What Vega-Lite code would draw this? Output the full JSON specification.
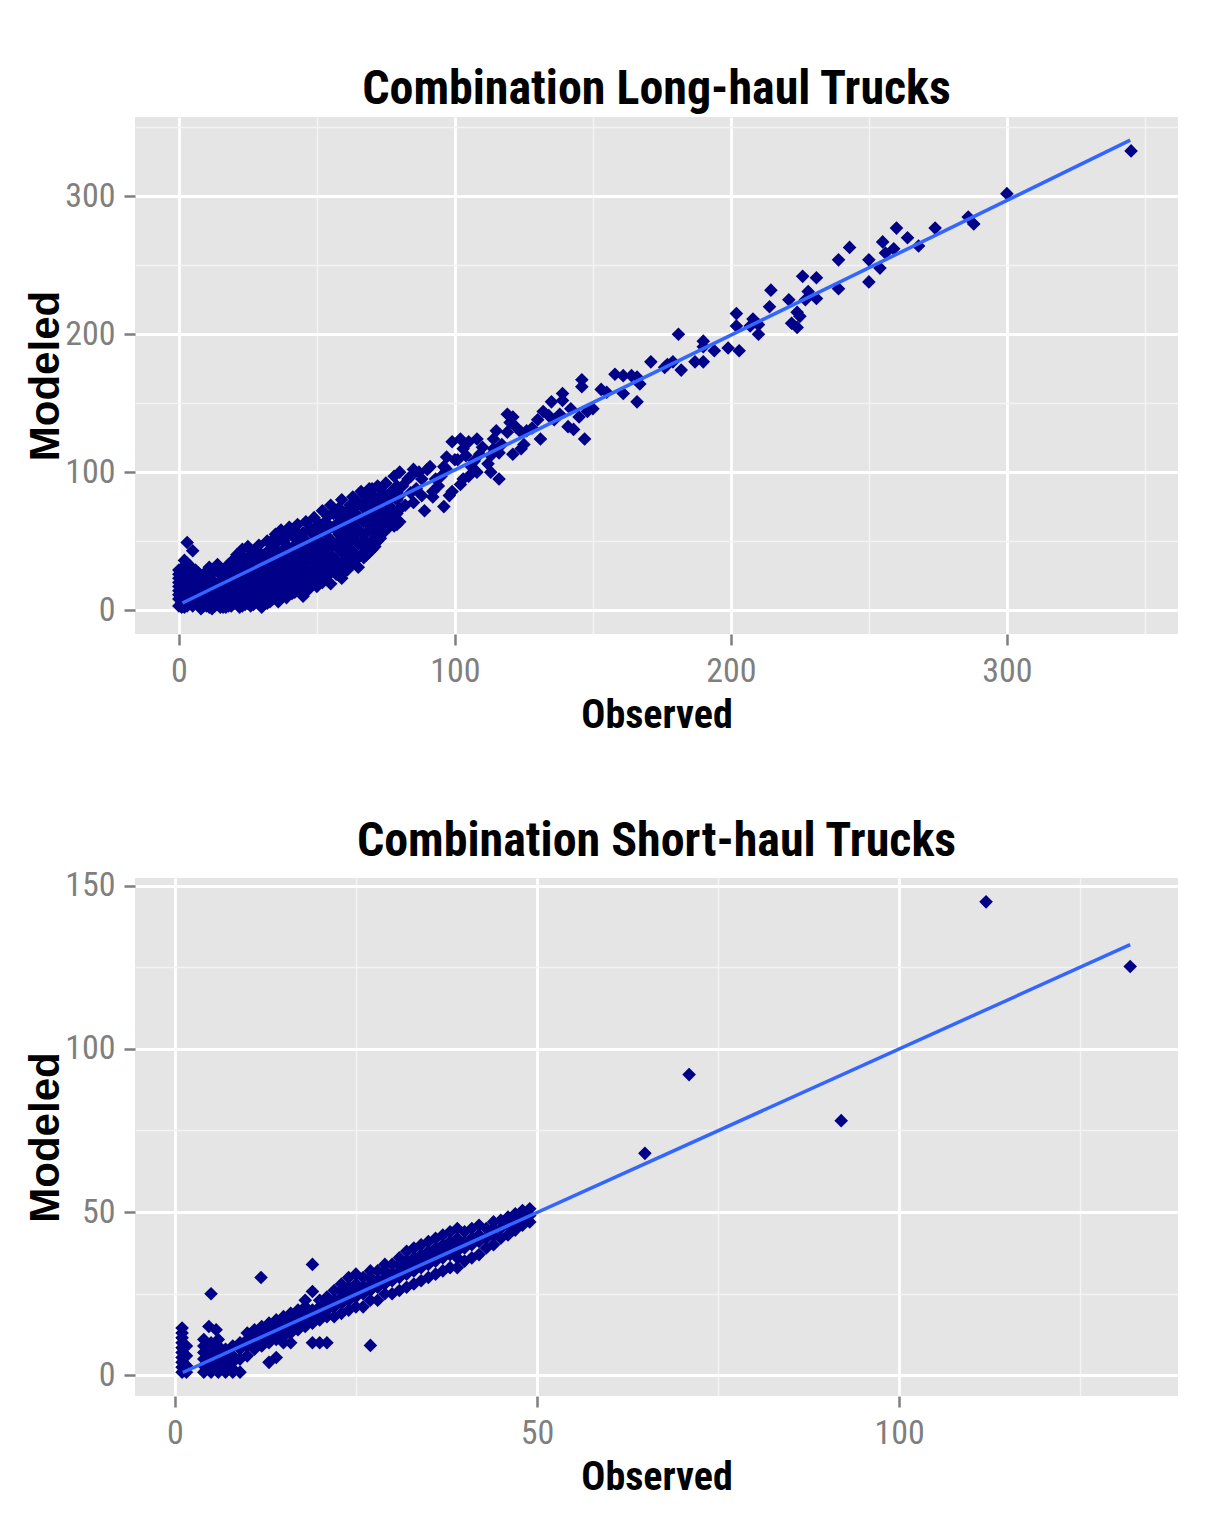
{
  "$schema": "https://vega.github.io/schema/vega-lite/v6.json",
  "background": "#FFFFFF",
  "padding": {"left": 24, "top": 66, "right": 40, "bottom": 20},
  "datasets": {
    "longHaul": [
      {"obs":0,"mod":3},{"obs":0,"mod":8},{"obs":0,"mod":14},{"obs":0,"mod":20},{"obs":0,"mod":26},{"obs":1,"mod":5},{"obs":1,"mod":11},{"obs":1,"mod":17},{"obs":1,"mod":23},{"obs":1,"mod":30},
      {"obs":2,"mod":2},{"obs":2,"mod":9},{"obs":2,"mod":15},{"obs":2,"mod":21},{"obs":2,"mod":28},{"obs":2,"mod":36},{"obs":3,"mod":49},{"obs":4,"mod":6},{"obs":4,"mod":13},{"obs":4,"mod":19},
      {"obs":4,"mod":25},{"obs":4,"mod":32},{"obs":5,"mod":43},{"obs":5,"mod":3},{"obs":6,"mod":10},{"obs":6,"mod":16},{"obs":6,"mod":22},{"obs":6,"mod":29},{"obs":7,"mod":4},{"obs":7,"mod":12},
      {"obs":8,"mod":18},{"obs":8,"mod":25},{"obs":8,"mod":1},{"obs":9,"mod":8},{"obs":9,"mod":14},{"obs":9,"mod":21},{"obs":10,"mod":28},{"obs":10,"mod":3},{"obs":11,"mod":10},{"obs":11,"mod":17},
      {"obs":11,"mod":24},{"obs":12,"mod":1},{"obs":12,"mod":6},{"obs":12,"mod":13},{"obs":13,"mod":20},{"obs":13,"mod":29},{"obs":14,"mod":4},{"obs":14,"mod":9},{"obs":14,"mod":16},{"obs":14,"mod":33},
      {"obs":0,"mod":11},{"obs":0,"mod":17},{"obs":0,"mod":23},{"obs":0,"mod":29},{"obs":1,"mod":2},{"obs":1,"mod":8},{"obs":1,"mod":14},{"obs":1,"mod":20},{"obs":1,"mod":26},{"obs":2,"mod":5},
      {"obs":2,"mod":12},{"obs":2,"mod":18},{"obs":2,"mod":24},{"obs":3,"mod":3},{"obs":3,"mod":10},{"obs":3,"mod":16},{"obs":3,"mod":22},{"obs":3,"mod":28},{"obs":3,"mod":34},{"obs":5,"mod":8},
      {"obs":5,"mod":15},{"obs":5,"mod":20},{"obs":5,"mod":27},{"obs":7,"mod":8},{"obs":7,"mod":16},{"obs":7,"mod":20},{"obs":7,"mod":27},{"obs":8,"mod":5},{"obs":8,"mod":11},{"obs":9,"mod":3},
      {"obs":9,"mod":17},{"obs":10,"mod":12},{"obs":10,"mod":20},{"obs":10,"mod":8},{"obs":11,"mod":2},{"obs":11,"mod":31},{"obs":12,"mod":19},{"obs":12,"mod":27},{"obs":13,"mod":8},{"obs":13,"mod":14},
      {"obs":13,"mod":3},
      {"obs":15,"mod":2},{"obs":15,"mod":11},{"obs":15,"mod":19},{"obs":15,"mod":26},{"obs":16,"mod":6},{"obs":16,"mod":14},{"obs":16,"mod":23},{"obs":17,"mod":2},{"obs":17,"mod":30},{"obs":18,"mod":8},
      {"obs":18,"mod":17},{"obs":18,"mod":25},{"obs":19,"mod":3},{"obs":19,"mod":12},{"obs":19,"mod":35},{"obs":20,"mod":20},{"obs":20,"mod":28},{"obs":21,"mod":6},{"obs":21,"mod":15},{"obs":21,"mod":40},
      {"obs":22,"mod":2},{"obs":22,"mod":24},{"obs":22,"mod":32},{"obs":23,"mod":10},{"obs":23,"mod":18},{"obs":23,"mod":44},{"obs":24,"mod":4},{"obs":24,"mod":28},{"obs":24,"mod":37},{"obs":25,"mod":14},
      {"obs":25,"mod":22},{"obs":25,"mod":46},{"obs":26,"mod":3},{"obs":26,"mod":9},{"obs":26,"mod":32},{"obs":27,"mod":18},{"obs":27,"mod":26},{"obs":27,"mod":41},{"obs":28,"mod":6},{"obs":28,"mod":13},
      {"obs":28,"mod":36},{"obs":29,"mod":22},{"obs":29,"mod":30},{"obs":29,"mod":47},{"obs":30,"mod":2},{"obs":30,"mod":10},{"obs":30,"mod":17},{"obs":31,"mod":26},{"obs":31,"mod":40},{"obs":32,"mod":5},
      {"obs":32,"mod":33},{"obs":32,"mod":50},{"obs":33,"mod":13},{"obs":33,"mod":21},{"obs":33,"mod":44},{"obs":34,"mod":8},{"obs":34,"mod":29},{"obs":34,"mod":37},
      {"obs":15,"mod":7},{"obs":16,"mod":2},{"obs":16,"mod":18},{"obs":17,"mod":9},{"obs":17,"mod":14},{"obs":17,"mod":21},{"obs":18,"mod":3},{"obs":18,"mod":33},{"obs":19,"mod":7},{"obs":19,"mod":21},
      {"obs":19,"mod":28},{"obs":20,"mod":5},{"obs":20,"mod":11},{"obs":20,"mod":15},{"obs":20,"mod":36},{"obs":21,"mod":10},{"obs":21,"mod":23},{"obs":21,"mod":30},{"obs":22,"mod":6},{"obs":22,"mod":13},
      {"obs":22,"mod":19},{"obs":23,"mod":3},{"obs":23,"mod":30},{"obs":23,"mod":37},{"obs":24,"mod":10},{"obs":24,"mod":17},{"obs":24,"mod":22},{"obs":25,"mod":5},{"obs":25,"mod":30},{"obs":25,"mod":38},
      {"obs":26,"mod":15},{"obs":26,"mod":22},{"obs":26,"mod":27},{"obs":27,"mod":4},{"obs":27,"mod":11},{"obs":27,"mod":34},{"obs":28,"mod":19},{"obs":28,"mod":25},{"obs":28,"mod":42},{"obs":29,"mod":8},
      {"obs":29,"mod":15},{"obs":30,"mod":24},{"obs":30,"mod":33},{"obs":30,"mod":40},{"obs":31,"mod":5},{"obs":31,"mod":12},{"obs":31,"mod":19},{"obs":31,"mod":34},{"obs":32,"mod":15},{"obs":32,"mod":25},
      {"obs":32,"mod":42},{"obs":33,"mod":6},{"obs":33,"mod":29},{"obs":33,"mod":37},{"obs":34,"mod":18},{"obs":34,"mod":45},{"obs":34,"mod":51},
      {"obs":35,"mod":16},{"obs":35,"mod":48},{"obs":35,"mod":55},{"obs":36,"mod":6},{"obs":36,"mod":24},{"obs":36,"mod":33},{"obs":37,"mod":12},{"obs":37,"mod":41},{"obs":37,"mod":58},{"obs":38,"mod":19},
      {"obs":38,"mod":29},{"obs":38,"mod":50},{"obs":39,"mod":9},{"obs":39,"mod":36},{"obs":40,"mod":16},{"obs":40,"mod":25},{"obs":40,"mod":45},{"obs":40,"mod":60},{"obs":41,"mod":32},{"obs":41,"mod":54},
      {"obs":42,"mod":13},{"obs":42,"mod":21},{"obs":42,"mod":39},{"obs":43,"mod":28},{"obs":43,"mod":48},{"obs":43,"mod":62},{"obs":44,"mod":17},{"obs":44,"mod":35},{"obs":45,"mod":10},{"obs":45,"mod":24},
      {"obs":45,"mod":42},{"obs":45,"mod":56},
      {"obs":35,"mod":10},{"obs":35,"mod":27},{"obs":35,"mod":36},{"obs":36,"mod":14},{"obs":36,"mod":42},{"obs":36,"mod":52},{"obs":37,"mod":20},{"obs":37,"mod":32},{"obs":38,"mod":11},{"obs":38,"mod":38},
      {"obs":38,"mod":44},{"obs":39,"mod":17},{"obs":39,"mod":26},{"obs":39,"mod":54},{"obs":40,"mod":33},{"obs":41,"mod":12},{"obs":41,"mod":22},{"obs":41,"mod":40},{"obs":42,"mod":28},{"obs":42,"mod":47},
      {"obs":42,"mod":58},{"obs":43,"mod":18},{"obs":43,"mod":36},{"obs":44,"mod":24},{"obs":44,"mod":44},{"obs":44,"mod":52},{"obs":45,"mod":32},
      {"obs":46,"mod":31},{"obs":46,"mod":64},{"obs":47,"mod":15},{"obs":47,"mod":20},{"obs":47,"mod":48},{"obs":48,"mod":27},{"obs":48,"mod":38},{"obs":48,"mod":59},{"obs":49,"mod":22},{"obs":49,"mod":44},
      {"obs":49,"mod":67},{"obs":50,"mod":17},{"obs":50,"mod":33},{"obs":50,"mod":52},{"obs":51,"mod":28},{"obs":51,"mod":40},{"obs":51,"mod":62},{"obs":52,"mod":20},{"obs":52,"mod":47},{"obs":52,"mod":72},
      {"obs":53,"mod":35},{"obs":53,"mod":56},{"obs":54,"mod":25},{"obs":54,"mod":43},{"obs":54,"mod":68},{"obs":55,"mod":19},{"obs":55,"mod":31},{"obs":55,"mod":51},{"obs":55,"mod":76},
      {"obs":46,"mod":14},{"obs":46,"mod":22},{"obs":46,"mod":40},{"obs":46,"mod":50},{"obs":47,"mod":28},{"obs":47,"mod":36},{"obs":47,"mod":58},{"obs":48,"mod":18},{"obs":48,"mod":46},{"obs":49,"mod":30},
      {"obs":49,"mod":54},{"obs":50,"mod":24},{"obs":50,"mod":42},{"obs":50,"mod":60},{"obs":51,"mod":20},{"obs":51,"mod":50},{"obs":52,"mod":30},{"obs":52,"mod":38},{"obs":52,"mod":58},{"obs":53,"mod":24},
      {"obs":53,"mod":45},{"obs":53,"mod":64},{"obs":54,"mod":32},{"obs":54,"mod":50},{"obs":55,"mod":40},{"obs":55,"mod":60},
      {"obs":56,"mod":38},{"obs":56,"mod":60},{"obs":57,"mod":26},{"obs":57,"mod":47},{"obs":57,"mod":70},{"obs":58,"mod":33},{"obs":58,"mod":55},{"obs":59,"mod":23},{"obs":59,"mod":42},{"obs":59,"mod":64},
      {"obs":59,"mod":80},{"obs":60,"mod":36},{"obs":60,"mod":50},{"obs":61,"mod":29},{"obs":61,"mod":58},{"obs":61,"mod":72},{"obs":62,"mod":44},{"obs":62,"mod":66},{"obs":63,"mod":34},{"obs":63,"mod":53},
      {"obs":63,"mod":82},{"obs":64,"mod":40},{"obs":64,"mod":60},{"obs":64,"mod":75},{"obs":65,"mod":31},{"obs":65,"mod":48},{"obs":65,"mod":68},
      {"obs":56,"mod":28},{"obs":56,"mod":48},{"obs":56,"mod":70},{"obs":57,"mod":36},{"obs":57,"mod":58},{"obs":58,"mod":25},{"obs":58,"mod":44},{"obs":58,"mod":64},{"obs":58,"mod":74},{"obs":59,"mod":32},
      {"obs":59,"mod":52},{"obs":60,"mod":28},{"obs":60,"mod":44},{"obs":60,"mod":60},{"obs":60,"mod":70},{"obs":61,"mod":38},{"obs":61,"mod":48},{"obs":62,"mod":32},{"obs":62,"mod":54},{"obs":62,"mod":76},
      {"obs":63,"mod":42},{"obs":63,"mod":62},{"obs":63,"mod":72},{"obs":64,"mod":50},{"obs":64,"mod":68},{"obs":65,"mod":38},{"obs":65,"mod":58},{"obs":65,"mod":78},
      {"obs":66,"mod":56},{"obs":66,"mod":86},{"obs":67,"mod":38},{"obs":67,"mod":64},{"obs":67,"mod":78},{"obs":68,"mod":45},{"obs":68,"mod":72},{"obs":69,"mod":42},{"obs":69,"mod":58},{"obs":69,"mod":88},
      {"obs":70,"mod":50},{"obs":70,"mod":66},{"obs":70,"mod":80},{"obs":71,"mod":46},{"obs":71,"mod":62},{"obs":72,"mod":55},{"obs":72,"mod":74},{"obs":72,"mod":90},{"obs":73,"mod":52},{"obs":73,"mod":68},
      {"obs":74,"mod":60},{"obs":74,"mod":84},{"obs":75,"mod":58},{"obs":75,"mod":78},{"obs":75,"mod":92},
      {"obs":66,"mod":40},{"obs":66,"mod":48},{"obs":66,"mod":66},{"obs":66,"mod":76},{"obs":67,"mod":50},{"obs":67,"mod":84},{"obs":68,"mod":40},{"obs":68,"mod":56},{"obs":68,"mod":64},{"obs":68,"mod":82},
      {"obs":69,"mod":48},{"obs":69,"mod":68},{"obs":69,"mod":76},{"obs":70,"mod":44},{"obs":70,"mod":58},{"obs":70,"mod":88},{"obs":71,"mod":52},{"obs":71,"mod":72},{"obs":71,"mod":82},{"obs":72,"mod":50},
      {"obs":72,"mod":64},{"obs":73,"mod":58},{"obs":73,"mod":78},{"obs":73,"mod":88},{"obs":74,"mod":56},{"obs":74,"mod":70},{"obs":75,"mod":64},{"obs":75,"mod":70},{"obs":76,"mod":60},{"obs":76,"mod":80},
      {"obs":77,"mod":64},{"obs":77,"mod":74},{"obs":78,"mod":70},{"obs":78,"mod":84},{"obs":79,"mod":62},{"obs":79,"mod":90},
      {"obs":76,"mod":71},{"obs":76,"mod":66},{"obs":77,"mod":86},{"obs":78,"mod":61},{"obs":78,"mod":97},{"obs":79,"mod":70},{"obs":79,"mod":80},{"obs":80,"mod":64},{"obs":80,"mod":73},
      {"obs":80,"mod":83},{"obs":80,"mod":100},{"obs":81,"mod":90},{"obs":82,"mod":76},{"obs":83,"mod":95},{"obs":84,"mod":97},{"obs":84,"mod":85},{"obs":85,"mod":78},{"obs":85,"mod":102},{"obs":86,"mod":88},
      {"obs":87,"mod":100},{"obs":88,"mod":83},{"obs":88,"mod":95},{"obs":89,"mod":72},{"obs":90,"mod":102},{"obs":91,"mod":104},{"obs":92,"mod":82},{"obs":92,"mod":86},{"obs":93,"mod":95},{"obs":94,"mod":90},
      {"obs":95,"mod":97},{"obs":96,"mod":75},{"obs":96,"mod":104},{"obs":97,"mod":102},{"obs":97,"mod":111},{"obs":98,"mod":83},{"obs":99,"mod":86},{"obs":99,"mod":122},{"obs":100,"mod":109},{"obs":101,"mod":109},
      {"obs":102,"mod":91},{"obs":102,"mod":124},{"obs":103,"mod":95},{"obs":103,"mod":117},{"obs":104,"mod":112},{"obs":105,"mod":97},{"obs":105,"mod":122},{"obs":106,"mod":104},{"obs":107,"mod":108},{"obs":108,"mod":100},
      {"obs":108,"mod":124},{"obs":109,"mod":113},{"obs":110,"mod":118},{"obs":112,"mod":106},{"obs":113,"mod":100},{"obs":113,"mod":112},{"obs":114,"mod":117},{"obs":114,"mod":124},{"obs":115,"mod":130},{"obs":116,"mod":95},
      {"obs":116,"mod":114},{"obs":117,"mod":120},{"obs":119,"mod":129},{"obs":119,"mod":142},{"obs":120,"mod":136},{"obs":121,"mod":113},{"obs":121,"mod":140},{"obs":122,"mod":133},{"obs":124,"mod":129},{"obs":124,"mod":117},
      {"obs":125,"mod":120},{"obs":126,"mod":130},{"obs":128,"mod":132},{"obs":130,"mod":138},{"obs":131,"mod":124},{"obs":132,"mod":144},{"obs":134,"mod":141},{"obs":135,"mod":151},{"obs":136,"mod":138},{"obs":138,"mod":142},
      {"obs":139,"mod":152},{"obs":139,"mod":157},{"obs":141,"mod":133},{"obs":142,"mod":146},{"obs":143,"mod":131},{"obs":145,"mod":140},{"obs":146,"mod":162},{"obs":146,"mod":167},{"obs":147,"mod":124},{"obs":148,"mod":144},
      {"obs":150,"mod":146},{"obs":153,"mod":160},{"obs":155,"mod":158},{"obs":158,"mod":171},{"obs":161,"mod":170},{"obs":164,"mod":170},{"obs":166,"mod":169},{"obs":161,"mod":157},{"obs":166,"mod":151},{"obs":167,"mod":164},
      {"obs":171,"mod":180},{"obs":176,"mod":176},{"obs":177,"mod":178},{"obs":179,"mod":180},{"obs":181,"mod":200},{"obs":182,"mod":174},{"obs":187,"mod":180},{"obs":190,"mod":195},{"obs":190,"mod":191},{"obs":194,"mod":188},
      {"obs":190,"mod":180},{"obs":199,"mod":190},{"obs":203,"mod":188},{"obs":202,"mod":215},{"obs":202,"mod":206},{"obs":208,"mod":211},{"obs":210,"mod":207},{"obs":207,"mod":206},{"obs":210,"mod":200},{"obs":214,"mod":220},
      {"obs":214.5,"mod":232},{"obs":221,"mod":225},{"obs":224,"mod":216},{"obs":225,"mod":213},{"obs":222,"mod":208},{"obs":224,"mod":205},{"obs":226,"mod":242},{"obs":231,"mod":241},{"obs":228,"mod":231},{"obs":227,"mod":225},
      {"obs":231,"mod":226},{"obs":239,"mod":254},{"obs":239,"mod":233},{"obs":243,"mod":263},{"obs":250,"mod":254},{"obs":250,"mod":238},{"obs":254,"mod":248},{"obs":255,"mod":267},{"obs":256,"mod":259},{"obs":259,"mod":262},
      {"obs":260,"mod":277},{"obs":264,"mod":270},{"obs":268,"mod":264},{"obs":274,"mod":277},{"obs":286,"mod":285},{"obs":288,"mod":280},{"obs":300,"mod":302},{"obs":345,"mod":333}
    ],
    "longHaulFit": [{"obs":1.3,"mod":5.1},{"obs":344.7,"mod":340.8}],
    "shortHaul": [
      {"obs":1,"mod":1},{"obs":1,"mod":2.5},{"obs":1,"mod":4},{"obs":1,"mod":5.5},{"obs":1,"mod":7},{"obs":1,"mod":8.5},{"obs":1,"mod":10},{"obs":1,"mod":11.5},{"obs":1,"mod":13},{"obs":1,"mod":14.5},
      {"obs":1.6,"mod":1},{"obs":1.6,"mod":3},{"obs":1.6,"mod":6},{"obs":1.6,"mod":9},
      {"obs":4,"mod":1},{"obs":4,"mod":3},{"obs":4,"mod":5},{"obs":4,"mod":7},{"obs":4,"mod":9},{"obs":4,"mod":11},{"obs":4.7,"mod":15},{"obs":5,"mod":25},
      {"obs":5,"mod":1},{"obs":5,"mod":3},{"obs":5,"mod":6},{"obs":5,"mod":8},{"obs":5,"mod":10},{"obs":5.7,"mod":14},
      {"obs":6,"mod":1},{"obs":6,"mod":2},{"obs":6,"mod":4},{"obs":6,"mod":7},{"obs":6,"mod":9},{"obs":6,"mod":11},
      {"obs":7,"mod":1},{"obs":7,"mod":3},{"obs":7,"mod":5},{"obs":7,"mod":8},
      {"obs":8,"mod":1},{"obs":8,"mod":2},{"obs":8,"mod":4},{"obs":8,"mod":6},{"obs":8,"mod":9},
      {"obs":9,"mod":1},{"obs":9,"mod":5},{"obs":9,"mod":8},{"obs":9,"mod":10},
      {"obs":10,"mod":6},{"obs":10,"mod":9},{"obs":10,"mod":11},{"obs":10,"mod":13},
      {"obs":11,"mod":8},{"obs":11,"mod":10},{"obs":11,"mod":12},{"obs":11,"mod":14},
      {"obs":12,"mod":9},{"obs":12,"mod":11},{"obs":12,"mod":13},{"obs":12,"mod":15},{"obs":11.9,"mod":30},
      {"obs":13,"mod":4},{"obs":13,"mod":10},{"obs":13,"mod":12},{"obs":13,"mod":14},{"obs":13,"mod":16},
      {"obs":14,"mod":5.5},{"obs":14,"mod":11},{"obs":14,"mod":13},{"obs":14,"mod":15},{"obs":14,"mod":17},
      {"obs":15,"mod":10},{"obs":15,"mod":12},{"obs":15,"mod":14},{"obs":15,"mod":16},{"obs":15,"mod":18},
      {"obs":16,"mod":10},{"obs":16,"mod":13},{"obs":16,"mod":15},{"obs":16,"mod":17},{"obs":16,"mod":19},
      {"obs":17,"mod":14},{"obs":17,"mod":16},{"obs":17,"mod":18},{"obs":17,"mod":20},
      {"obs":18,"mod":15},{"obs":18,"mod":17},{"obs":18,"mod":19},{"obs":18,"mod":21},{"obs":18,"mod":23},
      {"obs":19,"mod":10},{"obs":19,"mod":16},{"obs":19,"mod":18},{"obs":19,"mod":20},{"obs":19,"mod":25.7},{"obs":19,"mod":34},
      {"obs":20,"mod":10},{"obs":20,"mod":17},{"obs":20,"mod":19},{"obs":20,"mod":21},{"obs":20,"mod":23},
      {"obs":21,"mod":10},{"obs":21,"mod":18},{"obs":21,"mod":20},{"obs":21,"mod":22},{"obs":21,"mod":24},
      {"obs":22,"mod":18},{"obs":22,"mod":21},{"obs":22,"mod":23},{"obs":22,"mod":26},
      {"obs":23,"mod":19},{"obs":23,"mod":22},{"obs":23,"mod":24},{"obs":23,"mod":26},{"obs":23,"mod":28},
      {"obs":24,"mod":20},{"obs":24,"mod":23},{"obs":24,"mod":25},{"obs":24,"mod":27},{"obs":24,"mod":30},
      {"obs":25,"mod":21},{"obs":25,"mod":24},{"obs":25,"mod":26},{"obs":25,"mod":28},{"obs":25,"mod":31},
      {"obs":26,"mod":21},{"obs":26,"mod":25},{"obs":26,"mod":27},{"obs":26,"mod":30},
      {"obs":27,"mod":9.2},{"obs":27,"mod":23},{"obs":27,"mod":26},{"obs":27,"mod":28},{"obs":27,"mod":30},{"obs":27,"mod":32},
      {"obs":28,"mod":23},{"obs":28,"mod":27},{"obs":28,"mod":29},{"obs":28,"mod":32},
      {"obs":29,"mod":25},{"obs":29,"mod":28},{"obs":29,"mod":30},{"obs":29,"mod":32},{"obs":29,"mod":34},
      {"obs":30,"mod":25},{"obs":30,"mod":29},{"obs":30,"mod":31},{"obs":30,"mod":34},
      {"obs":31,"mod":26},{"obs":31,"mod":30},{"obs":31,"mod":32},{"obs":31,"mod":34},{"obs":31,"mod":36},
      {"obs":32,"mod":27},{"obs":32,"mod":31},{"obs":32,"mod":33},{"obs":32,"mod":35},{"obs":32,"mod":38},
      {"obs":33,"mod":28},{"obs":33,"mod":32},{"obs":33,"mod":34},{"obs":33,"mod":36},{"obs":33,"mod":39},
      {"obs":34,"mod":29},{"obs":34,"mod":33},{"obs":34,"mod":35},{"obs":34,"mod":37},{"obs":34,"mod":40},
      {"obs":35,"mod":30},{"obs":35,"mod":34},{"obs":35,"mod":36},{"obs":35,"mod":38},{"obs":35,"mod":41},
      {"obs":36,"mod":31},{"obs":36,"mod":35},{"obs":36,"mod":37},{"obs":36,"mod":39},{"obs":36,"mod":42},
      {"obs":37,"mod":32},{"obs":37,"mod":36},{"obs":37,"mod":38},{"obs":37,"mod":40},{"obs":37,"mod":43},
      {"obs":38,"mod":33},{"obs":38,"mod":37},{"obs":38,"mod":39},{"obs":38,"mod":41},{"obs":38,"mod":44},
      {"obs":39,"mod":33},{"obs":39,"mod":36},{"obs":39,"mod":38},{"obs":39,"mod":40},{"obs":39,"mod":42},{"obs":39,"mod":45},
      {"obs":40,"mod":35},{"obs":40,"mod":39},{"obs":40,"mod":41},{"obs":40,"mod":44},
      {"obs":41,"mod":36},{"obs":41,"mod":40},{"obs":41,"mod":42},{"obs":41,"mod":45},
      {"obs":42,"mod":37},{"obs":42,"mod":41},{"obs":42,"mod":43},{"obs":42,"mod":46},
      {"obs":43,"mod":39},{"obs":43,"mod":42},{"obs":43,"mod":45},
      {"obs":44,"mod":40},{"obs":44,"mod":43},{"obs":44,"mod":45},{"obs":44,"mod":47},
      {"obs":45,"mod":42},{"obs":45,"mod":45},{"obs":45,"mod":47.5},
      {"obs":46,"mod":43},{"obs":46,"mod":46},{"obs":46,"mod":48.5},
      {"obs":47,"mod":44.5},{"obs":47,"mod":47},{"obs":47,"mod":49.5},
      {"obs":48,"mod":46},{"obs":48,"mod":48},{"obs":48,"mod":50.5},
      {"obs":49,"mod":47},{"obs":49,"mod":49},{"obs":49,"mod":51},
      {"obs":64.9,"mod":68},{"obs":71,"mod":92.1},{"obs":92,"mod":78},{"obs":112,"mod":145},{"obs":131.9,"mod":125.2}
    ],
    "shortHaulFit": [{"obs":1.1,"mod":0.9},{"obs":131.9,"mod":131.9}]
  },
  "vconcat": [
    {
      "title": "Combination Long-haul Trucks",
      "width": 1043,
      "height": 517,
      "layer": [
        {
          "data": {"name": "longHaul"},
          "mark": {"type": "point", "shape": "diamond", "filled": true, "size": 185, "opacity": 1, "color": "#000088"},
          "encoding": {
            "x": {"field": "obs", "type": "quantitative", "title": "Observed",
                  "scale": {"domain": [-15.9, 362], "nice": false, "zero": false},
                  "axis": {"values": [0, 50, 100, 150, 200, 250, 300, 350],
                           "labelExpr": "datum.value % 100 === 0 ? datum.label : ''",
                           "tickOpacity": {"condition": {"test": "datum.value % 100 === 0", "value": 1}, "value": 0},
                           "gridWidth": {"condition": {"test": "datum.value % 100 === 0", "value": 2.8}, "value": 1.3},
                           "gridColor": {"condition": {"test": "datum.value % 100 === 0", "value": "#FFFFFF"}, "value": "#F4F4F4"}}},
            "y": {"field": "mod", "type": "quantitative", "title": "Modeled",
                  "scale": {"domain": [-17.4, 357.6], "nice": false, "zero": false},
                  "axis": {"values": [0, 50, 100, 150, 200, 250, 300, 350],
                           "labelExpr": "datum.value % 100 === 0 ? datum.label : ''",
                           "tickOpacity": {"condition": {"test": "datum.value % 100 === 0", "value": 1}, "value": 0},
                           "gridWidth": {"condition": {"test": "datum.value % 100 === 0", "value": 2.8}, "value": 1.3},
                           "gridColor": {"condition": {"test": "datum.value % 100 === 0", "value": "#FFFFFF"}, "value": "#F4F4F4"}}}
          }
        },
        {
          "data": {"name": "longHaulFit"},
          "mark": {"type": "line", "color": "#3366FF", "strokeWidth": 3.5},
          "encoding": {
            "x": {"field": "obs", "type": "quantitative"},
            "y": {"field": "mod", "type": "quantitative"}
          }
        }
      ]
    },
    {
      "title": "Combination Short-haul Trucks",
      "width": 1043,
      "height": 518,
      "layer": [
        {
          "data": {"name": "shortHaul"},
          "mark": {"type": "point", "shape": "diamond", "filled": true, "size": 185, "opacity": 1, "color": "#000088"},
          "encoding": {
            "x": {"field": "obs", "type": "quantitative", "title": "Observed",
                  "scale": {"domain": [-5.5, 138.5], "nice": false, "zero": false},
                  "axis": {"values": [0, 25, 50, 75, 100, 125],
                           "labelExpr": "datum.value % 50 === 0 ? datum.label : ''",
                           "tickOpacity": {"condition": {"test": "datum.value % 50 === 0", "value": 1}, "value": 0},
                           "gridWidth": {"condition": {"test": "datum.value % 50 === 0", "value": 2.8}, "value": 1.3},
                           "gridColor": {"condition": {"test": "datum.value % 50 === 0", "value": "#FFFFFF"}, "value": "#F4F4F4"}}},
            "y": {"field": "mod", "type": "quantitative", "title": "Modeled",
                  "scale": {"domain": [-6.3, 152.3], "nice": false, "zero": false},
                  "axis": {"values": [0, 25, 50, 75, 100, 125, 150],
                           "labelExpr": "datum.value % 50 === 0 ? datum.label : ''",
                           "tickOpacity": {"condition": {"test": "datum.value % 50 === 0", "value": 1}, "value": 0},
                           "gridWidth": {"condition": {"test": "datum.value % 50 === 0", "value": 2.8}, "value": 1.3},
                           "gridColor": {"condition": {"test": "datum.value % 50 === 0", "value": "#FFFFFF"}, "value": "#F4F4F4"}}}
          }
        },
        {
          "data": {"name": "shortHaulFit"},
          "mark": {"type": "line", "color": "#3366FF", "strokeWidth": 3.5},
          "encoding": {
            "x": {"field": "obs", "type": "quantitative"},
            "y": {"field": "mod", "type": "quantitative"}
          }
        }
      ]
    }
  ],
  "spacing": 82,
  "config": {
    "font": "Roboto Condensed",
    "view": {"fill": "#E5E5E5", "stroke": null},
    "axis": {
      "domain": false,
      "labelFont": "Roboto Condensed",
      "labelFontSize": 34,
      "labelColor": "#7F7F7F",
      "labelPadding": 9,
      "tickColor": "#7F7F7F",
      "tickSize": 11,
      "tickWidth": 2.5,
      "titleFont": "Roboto Condensed",
      "titleFontSize": 40,
      "titleFontWeight": "bold",
      "titleColor": "#000000"
    },
    "axisX": {"titlePadding": 7},
    "axisY": {"titleFont": "Liberation Sans", "titleFontSize": 42, "titlePadding": 6, "minExtent": 62, "maxExtent": 62},
    "title": {"font": "Roboto Condensed", "fontSize": 48, "fontWeight": "bold", "color": "#000000", "anchor": "middle", "offset": 3}
  }
}
